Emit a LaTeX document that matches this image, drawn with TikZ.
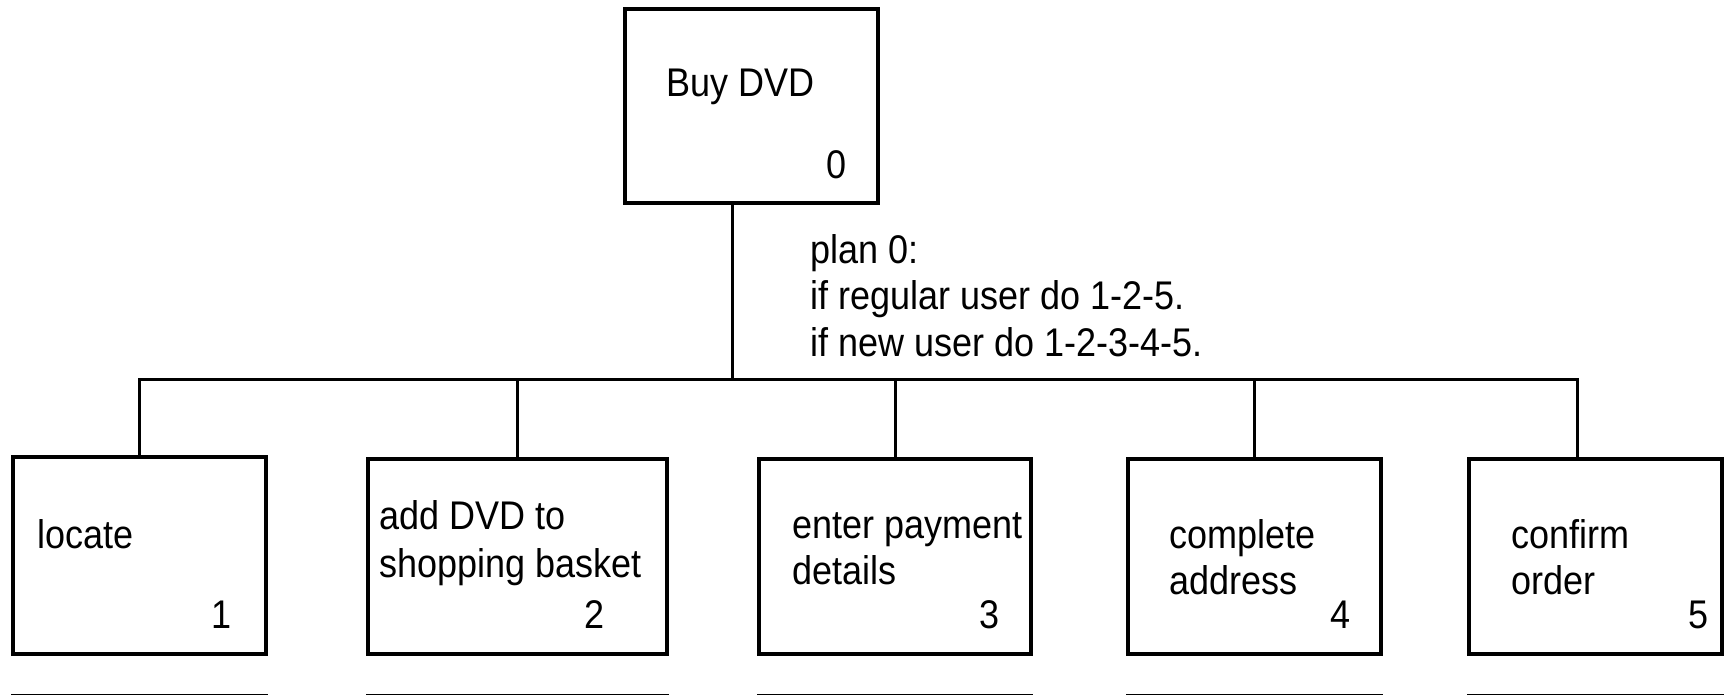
\documentclass[tikz,border=0pt]{standalone}
\usepackage{fontspec}
\setmainfont{Liberation Sans}[FakeStretch=0.9]
\begin{document}
\begin{tikzpicture}[x=1pt,y=-1pt,
  taskbox/.style={draw=black,line width=3.3pt,inner sep=0pt,minimum width=#1},
  taskbox/.default=253pt,
  lbl/.style={inner sep=0pt,anchor=base west,font=\fontsize{40pt}{46pt}\selectfont},
  num/.style={inner sep=0pt,anchor=base east,font=\fontsize{40pt}{46pt}\selectfont},
  conn/.style={draw=black,line width=3pt}]
\useasboundingbox (0,0) rectangle (1727,694);
% boxes
\node[taskbox=253pt,minimum height=194pt] (B0) at (751.5,106) {};
\node[taskbox=253pt,minimum height=197pt] (B1) at (139.5,555.5) {};
\node[taskbox=299pt,minimum height=195pt] (B2) at (517.5,556.5) {};
\node[taskbox=272pt,minimum height=195pt] (B3) at (895,556.5) {};
\node[taskbox=253pt,minimum height=195pt] (B4) at (1254.5,556.5) {};
\node[taskbox=253pt,minimum height=195pt] (B5) at (1595.5,556.5) {};
% texts
\node[lbl] (t0) at (666,96) {Buy DVD};
\node[num] (n0) at (847,178) {0};
\node[lbl] (p1) at (810,263) {plan 0:};
\node[lbl] (p2) at (810,309.5) {if regular user do 1-2-5.};
\node[lbl] (p3) at (810,356) {if new user do 1-2-3-4-5.};
\node[lbl] (t1) at (37,548) {locate};
\node[num] (n1) at (232,628) {1};
\node[lbl] (t2a) at (379,529) {add DVD to};
\node[lbl] (t2b) at (379,577) {shopping basket};
\node[num] (n2) at (605,628) {2};
\node[lbl] (t3a) at (792,538) {enter payment};
\node[lbl] (t3b) at (792,584) {details};
\node[num] (n3) at (1000,628) {3};
\node[lbl] (t4a) at (1169,548) {complete};
\node[lbl] (t4b) at (1169,594) {address};
\node[num] (n4) at (1351,628) {4};
\node[lbl] (t5a) at (1511,548) {confirm};
\node[lbl] (t5b) at (1511,594) {order};
\node[num] (n5) at (1709,628) {5};
% connectors
\coordinate (j0) at (732,379);
\coordinate (j5) at (1577,379);
\coordinate (bl) at (0,695);
\draw[conn] (B0.south -| j0) -- (j0);
\draw[conn] (B1.north) |- (j5) -- (B5.north -| j5);
\draw[conn] (B2.north) -- (B2.north |- j0);
\draw[conn] (B3.north) -- (B3.north |- j0);
\draw[conn] (B4.north) -- (B4.north |- j0);
% partial lines at the bottom edge
\foreach \b in {B1,B2,B3,B4,B5}
  \draw[conn] (\b.south west |- bl) -- (\b.south east |- bl);
\end{tikzpicture}
\end{document}
